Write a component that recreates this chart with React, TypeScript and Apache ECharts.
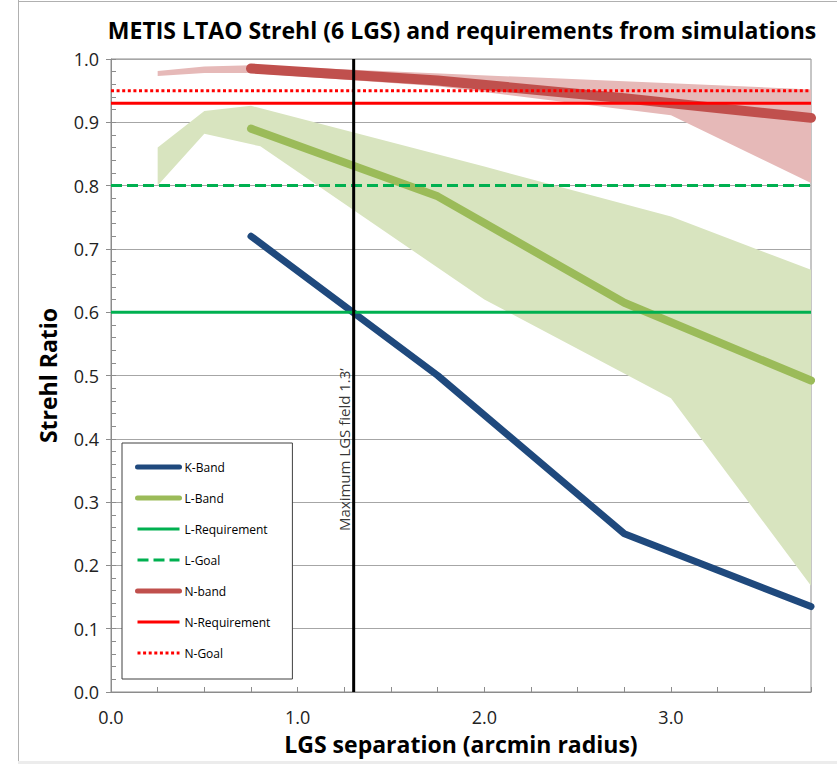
import React, { useEffect, useRef } from "react";
import * as echarts from "echarts";

// ---- data ----
const X_MIN = 0;
const X_MAX = 3.75;
const Y_MIN = 0;
const Y_MAX = 1.0;

const kBand: [number, number][] = [
  [0.75, 0.72],
  [1.75, 0.5],
  [2.75, 0.25],
  [3.75, 0.135],
];
const lBand: [number, number][] = [
  [0.75, 0.89],
  [1.75, 0.783],
  [2.75, 0.615],
  [3.75, 0.492],
];
const nBand: [number, number][] = [
  [0.75, 0.985],
  [1.75, 0.966],
  [2.75, 0.938],
  [3.75, 0.907],
];

// simulation ranges (shaded)
const lRangeUpper: [number, number][] = [
  [0.25, 0.86],
  [0.5, 0.918],
  [0.75, 0.926],
  [2.0, 0.83],
  [3.0, 0.751],
  [3.75, 0.667],
];
const lRangeLower: [number, number][] = [
  [0.25, 0.8],
  [0.5, 0.882],
  [0.8, 0.862],
  [2.0, 0.62],
  [3.0, 0.464],
  [3.75, 0.168],
];
const nRangeUpper: [number, number][] = [
  [0.25, 0.981],
  [0.5, 0.988],
  [0.75, 0.99],
  [3.75, 0.952],
];
const nRangeLower: [number, number][] = [
  [0.25, 0.973],
  [0.5, 0.978],
  [0.75, 0.978],
  [1.75, 0.957],
  [3.0, 0.911],
  [3.75, 0.804],
];

const lRequirement = 0.6;
const lGoal = 0.8;
const nRequirement = 0.93;
const nGoal = 0.95;

const maxField = 1.3;
const maxFieldLabelY = 0.383;
const maxFieldLabel = "Maximum LGS field 1.3\u2019";

const legendNames = [
  "K-Band",
  "L-Band",
  "L-Requirement",
  "L-Goal",
  "N-band",
  "N-Requirement",
  "N-Goal",
];
const legendLineWidths = [5, 5, 3, 3, 5, 3, 3];

const FONT = "'Open Sans', 'Noto Sans', sans-serif";

function bandSeries(name: string, upper: [number, number][], lower: [number, number][], fill: string) {
  return {
    name,
    type: "custom",
    silent: true,
    z: 1,
    data: [[upper[0][0], upper[0][1]]],
    renderItem: (_params: any, api: any) => {
      const pts = upper
        .map((p) => api.coord(p))
        .concat(lower.slice().reverse().map((p) => api.coord(p)));
      return {
        type: "polygon",
        shape: { points: pts },
        style: { fill },
      };
    },
  };
}

function hLine(name: string, y: number, color: string, type: any, width = 3) {
  return {
    name,
    type: "line",
    symbol: "none",
    z: 4,
    data: [
      [X_MIN, y],
      [X_MAX, y],
    ],
    lineStyle: { color, width, type, cap: "butt" },
    itemStyle: { color },
  };
}

export default function App() {
  const ref = useRef<HTMLDivElement>(null);

  useEffect(() => {
    if (!ref.current) return;
    const chart = echarts.init(ref.current, null, { renderer: "svg" });
    const option: any = {
      animation: false,
      backgroundColor: "#ffffff",
      textStyle: { fontFamily: FONT },
      title: {
        text: "METIS LTAO Strehl (6 LGS) and requirements from simulations",
        left: 457,
        textAlign: "center",
        top: 13,
        textStyle: { fontSize: 23, fontWeight: "bold", color: "#000", fontFamily: FONT },
      },
      grid: {
        left: 111,
        right: 26,
        top: 59,
        bottom: 72,
        show: true,
        borderColor: "#8c8c8c",
        borderWidth: 1,
      },
      legend: {
        data: legendNames.map((name, i) => ({
          name,
          lineStyle: { width: legendLineWidths[i], cap: legendLineWidths[i] > 3 ? "round" : "butt" },
        })),
        orient: "vertical",
        left: 122,
        top: 443,
        itemWidth: 42,
        itemHeight: 14,
        itemGap: 17,
        padding: [17, 22, 19, 13],
        backgroundColor: "#ffffff",
        borderColor: "#404040",
        borderWidth: 1,
        borderRadius: 0,
        itemStyle: { opacity: 0 },
        textStyle: { fontSize: 12, color: "#000", fontFamily: FONT, lineHeight: 14, height: 14 },
        z: 10,
      },
      xAxis: {
        type: "value",
        min: X_MIN,
        max: X_MAX,
        interval: 0.25,
        name: "LGS separation (arcmin radius)",
        nameLocation: "middle",
        nameGap: 40,
        nameTextStyle: { fontSize: 23, fontWeight: "bold", color: "#000", fontFamily: FONT, lineHeight: 24 },
        axisLine: { lineStyle: { color: "#8c8c8c" } },
        axisTick: { inside: true, length: 5, lineStyle: { color: "#8c8c8c" } },
        axisLabel: {
          fontSize: 18,
          color: "#222",
          margin: 15,
          lineHeight: 20,
          formatter: (v: number) => (Math.abs(v - Math.round(v)) < 1e-9 ? v.toFixed(1) : ""),
        },
        splitLine: { show: false },
      },
      yAxis: [
        {
          type: "value",
          min: Y_MIN,
          max: Y_MAX,
          interval: 0.1,
          name: "Strehl Ratio",
          nameLocation: "middle",
          nameGap: 52,
          nameTextStyle: { fontSize: 23, fontWeight: "bold", color: "#000", fontFamily: FONT },
          axisLine: { show: true, lineStyle: { color: "#8c8c8c" } },
          axisTick: { show: true, length: 5, lineStyle: { color: "#8c8c8c" } },
          axisLabel: {
            fontSize: 18,
            color: "#222",
            margin: 12,
            formatter: (v: number) => v.toFixed(1),
          },
          splitLine: { show: true, lineStyle: { color: "#a6a6a6", width: 1 } },
        },
        {
          type: "value",
          min: Y_MIN,
          max: Y_MAX,
          interval: 0.02,
          position: "left",
          offset: 0,
          axisLine: { show: false },
          axisTick: { show: true, inside: true, length: 5, lineStyle: { color: "#8c8c8c" } },
          axisLabel: { show: false },
          splitLine: { show: false },
        },
      ],
      graphic: [
        { type: "line", shape: { x1: 18.5, y1: 0, x2: 18.5, y2: 761 }, style: { stroke: "#b0b0b0", lineWidth: 1 }, silent: true },
        { type: "line", shape: { x1: 18, y1: 1.5, x2: 837, y2: 1.5 }, style: { stroke: "#b0b0b0", lineWidth: 1 }, silent: true },
        { type: "rect", shape: { x: 18, y: 761, width: 819, height: 3 }, style: { fill: "#ececec" }, silent: true },
      ],
      series: [
        bandSeries("L-range", lRangeUpper, lRangeLower, "#d8e4bf"),
        bandSeries("N-range", nRangeUpper, nRangeLower, "#e6b9b8"),
        {
          name: "K-Band",
          type: "line",
          symbol: "none",
          z: 3,
          data: kBand,
          lineStyle: { color: "#1f497d", width: 7, cap: "round", join: "round" },
          itemStyle: { color: "#1f497d" },
        },
        {
          name: "L-Band",
          type: "line",
          symbol: "none",
          z: 3,
          data: lBand,
          lineStyle: { color: "#9bbb59", width: 8, cap: "round", join: "round" },
          itemStyle: { color: "#9bbb59" },
        },
        {
          name: "N-band",
          type: "line",
          symbol: "none",
          z: 3,
          data: nBand,
          lineStyle: { color: "#c0504d", width: 10, cap: "round", join: "round" },
          itemStyle: { color: "#c0504d" },
        },
        hLine("L-Requirement", lRequirement, "#00b050", "solid"),
        hLine("L-Goal", lGoal, "#00b050", [11, 5]),
        hLine("N-Requirement", nRequirement, "#ff0000", "solid"),
        hLine("N-Goal", nGoal, "#ff0000", [3, 2.6], 3),
        {
          name: "Max field",
          type: "line",
          symbol: "none",
          z: 5,
          data: [
            [maxField, Y_MIN],
            [maxField, Y_MAX],
          ],
          lineStyle: { color: "#000", width: 3 },
        },
        {
          name: "Max field label",
          type: "scatter",
          symbolSize: 0,
          z: 5,
          data: [[maxField, maxFieldLabelY]],
          label: {
            show: true,
            formatter: maxFieldLabel,
            position: "left",
            distance: 10,
            rotate: 90,
            align: "center",
            verticalAlign: "middle",
            fontSize: 15,
            color: "#000",
            fontFamily: FONT,
          },
        },
      ],
    };
    chart.setOption(option);
    return () => chart.dispose();
  }, []);

  return (
    <div
      ref={ref}
      style={{ position: "fixed", left: 0, top: 0, width: 837, height: 764 }}
    />
  );
}
